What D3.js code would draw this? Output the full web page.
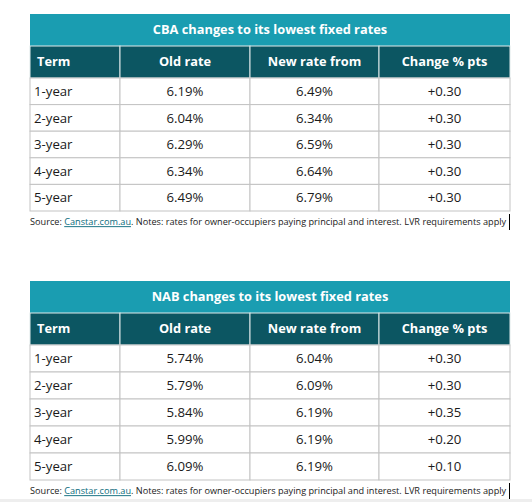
<!DOCTYPE html>
<html>
<head>
<meta charset="utf-8">
<script src="https://cdn.jsdelivr.net/npm/d3@7"></script>
<style>
  body { margin: 0; background: #fff; }
  svg { display: block; font-family: "Open Sans", sans-serif; }
  .title { fill: #fff; font-weight: 700; font-size: 12.8px; }
  .head { fill: #fff; font-weight: 700; font-size: 12.8px; }
  .cell { fill: #1a1a1a; font-size: 13.2px; }
  .note { fill: #1a1a1a; font-size: 10.5px; }
  .link { fill: #0b6b7c; text-decoration: underline; }
</style>
</head>
<body>
<svg width="532" height="502"></svg>
<script>
const columns = ['Term', 'Old rate', 'New rate from', 'Change % pts']
const terms = ['1-year', '2-year', '3-year', '4-year', '5-year']

const cbaOld = ['6.19%', '6.04%', '6.29%', '6.34%', '6.49%']
const cbaNew = ['6.49%', '6.34%', '6.59%', '6.64%', '6.79%']
const cbaChange = ['+0.30', '+0.30', '+0.30', '+0.30', '+0.30']

const nabOld = ['5.74%', '5.79%', '5.84%', '5.99%', '6.09%']
const nabNew = ['6.04%', '6.09%', '6.19%', '6.19%', '6.19%']
const nabChange = ['+0.30', '+0.30', '+0.35', '+0.20', '+0.10']

const tables = [
  { title: 'CBA changes to its lowest fixed rates', old: cbaOld, next: cbaNew, change: cbaChange, top: 14, rowH: 26.6 },
  { title: 'NAB changes to its lowest fixed rates', old: nabOld, next: nabNew, change: nabChange, top: 281, rowH: 27 }
]

const left = 30, right = 510
const titleH = 32, headH = 32

// column edges
const x = d3.scaleOrdinal().domain(columns).range([30, 120, 250, 379])
const colW = c => {
  const i = columns.indexOf(c)
  return (i < columns.length - 1 ? x(columns[i + 1]) : right) - x(c)
}

const svg = d3.select('svg')

svg.append('rect')
  .attr('x', 0).attr('y', 499).attr('width', 532).attr('height', 3)
  .attr('fill', '#eeeeee')

tables.forEach(t => {
  const g = svg.append('g')
  const bodyTop = t.top + titleH + headH
  const y = d3.scaleBand().domain(terms).range([bodyTop, bodyTop + t.rowH * terms.length])

  // title bar
  g.append('rect')
    .attr('x', left).attr('y', t.top)
    .attr('width', right - left).attr('height', titleH)
    .attr('fill', '#1a9db1')
  g.append('text')
    .attr('class', 'title')
    .attr('x', (left + right) / 2).attr('y', t.top + titleH / 2)
    .attr('dy', '0.35em').attr('text-anchor', 'middle')
    .text(t.title)

  // header row
  g.selectAll('rect.hcell')
    .data(columns)
    .enter()
    .append('rect')
    .attr('class', 'hcell')
    .attr('x', d => x(d)).attr('y', t.top + titleH)
    .attr('width', d => colW(d)).attr('height', headH)
    .attr('fill', '#0c5662')
    .attr('stroke', '#dfe9ea').attr('stroke-width', 1)
  g.selectAll('text.head')
    .data(columns)
    .enter()
    .append('text')
    .attr('class', 'head')
    .attr('x', (d, i) => i === 0 ? x(d) + 7 : x(d) + colW(d) / 2)
    .attr('y', t.top + titleH + headH / 2)
    .attr('dy', '0.35em')
    .attr('text-anchor', (d, i) => i === 0 ? 'start' : 'middle')
    .text(d => d)

  // body
  const rows = terms.map((term, i) => [term, t.old[i], t.next[i], t.change[i]])
  const rowG = g.selectAll('g.row')
    .data(rows)
    .enter()
    .append('g')
    .attr('class', 'row')
    .attr('transform', d => `translate(0,${y(d[0])})`)

  rowG.selectAll('rect')
    .data(d => d)
    .enter()
    .append('rect')
    .attr('x', (d, i) => x(columns[i]))
    .attr('width', (d, i) => colW(columns[i]))
    .attr('height', y.bandwidth())
    .attr('fill', '#fff')
    .attr('stroke', '#c3c3c3').attr('stroke-width', 1)

  rowG.selectAll('text')
    .data(d => d)
    .enter()
    .append('text')
    .attr('class', 'cell')
    .attr('x', (d, i) => i === 0 ? x(columns[i]) + 4 : x(columns[i]) + colW(columns[i]) / 2)
    .attr('y', y.bandwidth() / 2)
    .attr('dy', '0.35em')
    .attr('text-anchor', (d, i) => i === 0 ? 'start' : 'middle')
    .text(d => d)

  // source note, shrunk to fit the table width
  const noteY = y.range()[1] + 11
  const note = g.append('text')
    .attr('class', 'note')
    .attr('x', left).attr('y', noteY)
    .attr('dy', '0.35em')
  note.append('tspan').text('Source: ')
  note.append('tspan').attr('class', 'link').text('Canstar.com.au')
  note.append('tspan').text('. Notes: rates for owner-occupiers paying principal and interest. LVR requirements apply')
  const avail = right - left - 3
  const w = note.node().getComputedTextLength()
  if (w > avail) note.style('font-size', (10.5 * avail / w) + 'px')

  g.append('line')
    .attr('x1', right - 0.5).attr('x2', right - 0.5)
    .attr('y1', noteY - 8).attr('y2', noteY + 8)
    .attr('stroke', '#000').attr('stroke-width', 1)
})
</script>
</body>
</html>
